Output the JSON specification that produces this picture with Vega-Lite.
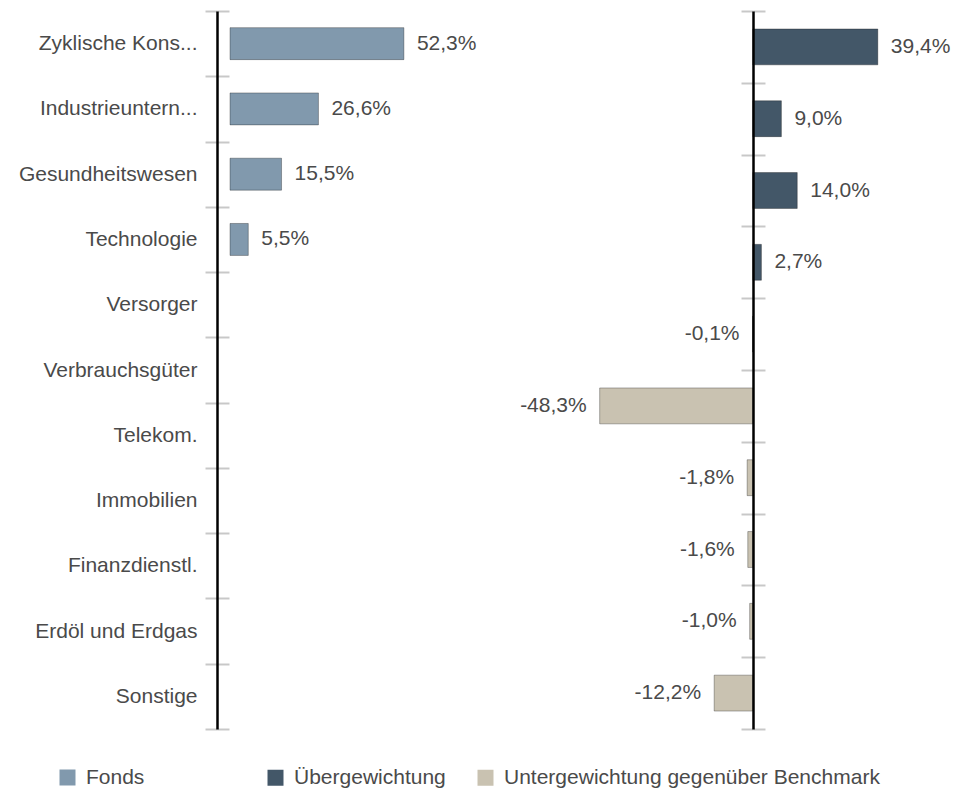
{
  "$schema": "https://vega.github.io/schema/vega-lite/v6.json",
  "padding": {"left": 18, "top": 0, "right": 5, "bottom": 5},
  "background": "white",
  "bounds": "flush",
  "spacing": 19,
  "config": {
    "font": "Liberation Sans",
    "view": {"stroke": null},
    "text": {"fontSize": 21, "fill": "#4a4a4a", "baseline": "middle"}
  },
  "datasets": {
    "fonds": [
      {"sector": "Zyklische Kons...", "v": 52.3, "series": "Fonds"},
      {"sector": "Industrieuntern...", "v": 26.6, "series": "Fonds"},
      {"sector": "Gesundheitswesen", "v": 15.5, "series": "Fonds"},
      {"sector": "Technologie", "v": 5.5, "series": "Fonds"}
    ],
    "diff": [
      {"sector": "Zyklische Kons...", "v": 39.4, "series": "Übergewichtung"},
      {"sector": "Industrieuntern...", "v": 9.0, "series": "Übergewichtung"},
      {"sector": "Gesundheitswesen", "v": 14.0, "series": "Übergewichtung"},
      {"sector": "Technologie", "v": 2.7, "series": "Übergewichtung"},
      {"sector": "Versorger", "v": -0.1, "series": "Untergewichtung gegenüber Benchmark"},
      {"sector": "Verbrauchsgüter", "v": -48.3, "series": "Untergewichtung gegenüber Benchmark"},
      {"sector": "Telekom.", "v": -1.8, "series": "Untergewichtung gegenüber Benchmark"},
      {"sector": "Immobilien", "v": -1.6, "series": "Untergewichtung gegenüber Benchmark"},
      {"sector": "Finanzdienstl.", "v": -1.0, "series": "Untergewichtung gegenüber Benchmark"},
      {"sector": "Erdöl und Erdgas", "v": -12.2, "series": "Untergewichtung gegenüber Benchmark"}
    ]
  },
  "hconcat": [
    {
      "width": 266,
      "height": 718,
      "data": {"name": "fonds"},
      "transform": [
        {"calculate": "replace(replace(format(datum.v, '.1f'), '.', ','), '\u2212', '-') + '%'", "as": "label"}
      ],
      "layer": [
        {
          "mark": {"type": "bar", "height": {"band": 0.49}, "stroke": "#000000", "strokeOpacity": 0.3, "strokeWidth": 1},
          "encoding": {
            "y": {
              "field": "sector", "type": "nominal",
              "scale": {"domain": ["Zyklische Kons...", "Industrieuntern...", "Gesundheitswesen", "Technologie", "Versorger", "Verbrauchsgüter", "Telekom.", "Immobilien", "Finanzdienstl.", "Erdöl und Erdgas", "Sonstige"], "padding": 0},
              "axis": {"orient": "left", "offset": 13, "title": null, "domainColor": "#000000", "domainWidth": 2.5, "tickColor": "#c8c8c8", "tickWidth": 2, "tickSize": 12, "tickBand": "extent", "labelFontSize": 21, "labelColor": "#4a4a4a", "labelPadding": 8, "labelLimit": 300, "zindex": 2}
            },
            "x": {"field": "v", "type": "quantitative", "scale": {"domain": [0, 80]}, "axis": null},
            "color": {
              "field": "series", "type": "nominal",
              "scale": {"domain": ["Fonds"], "range": ["#8199ad"]},
              "legend": {"orient": "none", "legendX": -173, "legendY": 756, "title": null, "direction": "horizontal", "symbolType": "square", "symbolSize": 256, "symbolStrokeWidth": 0, "labelFontSize": 21, "labelColor": "#4a4a4a", "labelOffset": 8, "padding": 0}
            }
          }
        },
        {
          "mark": {"type": "text", "align": "left", "dx": 13},
          "encoding": {
            "y": {
              "field": "sector", "type": "nominal",
              "scale": {"domain": ["Zyklische Kons...", "Industrieuntern...", "Gesundheitswesen", "Technologie", "Versorger", "Verbrauchsgüter", "Telekom.", "Immobilien", "Finanzdienstl.", "Erdöl und Erdgas", "Sonstige"], "padding": 0},
              "axis": {"orient": "left", "offset": 13, "title": null, "domain": false, "labels": false, "tickColor": "#c8c8c8", "tickWidth": 2, "tickSize": -12, "tickBand": "extent", "zindex": 1}
            },
            "x": {"field": "v", "type": "quantitative", "scale": {"domain": [0, 80]}, "axis": null},
            "text": {"field": "label"}
          }
        }
      ],
      "resolve": {"axis": {"y": "independent"}}
    },
    {
      "width": 444,
      "height": 718,
      "data": {"name": "diff"},
      "transform": [
        {"calculate": "replace(replace(format(datum.v, '.1f'), '.', ','), '\u2212', '-') + '%'", "as": "label"}
      ],
      "layer": [
        {
          "mark": {"type": "bar", "height": {"band": 0.5}, "stroke": "#000000", "strokeOpacity": 0.3, "strokeWidth": 1},
          "encoding": {
            "y": {
              "field": "sector", "type": "nominal",
              "scale": {"domain": ["Zyklische Kons...", "Industrieuntern...", "Gesundheitswesen", "Technologie", "Versorger", "Verbrauchsgüter", "Telekom.", "Immobilien", "Finanzdienstl.", "Erdöl und Erdgas"], "padding": 0},
              "axis": {"orient": "left", "offset": -238, "title": null, "labels": false, "domainColor": "#000000", "domainWidth": 2.5, "tickColor": "#c8c8c8", "tickWidth": 2, "tickSize": 12, "tickBand": "extent", "zindex": 2}
            },
            "x": {"field": "v", "type": "quantitative", "scale": {"domain": [-75, 65]}, "axis": null},
            "color": {
              "field": "series", "type": "nominal",
              "scale": {"domain": ["Übergewichtung", "Untergewichtung gegenüber Benchmark"], "range": ["#435768", "#c9c2b1"]},
              "legend": {"orient": "none", "legendX": -250, "legendY": 756, "title": null, "direction": "horizontal", "columnPadding": 29, "symbolType": "square", "symbolSize": 256, "symbolStrokeWidth": 0, "labelFontSize": 21, "labelColor": "#4a4a4a", "labelOffset": 8, "labelLimit": 500, "padding": 0}
            }
          }
        },
        {
          "transform": [{"filter": "datum.v > 0"}],
          "mark": {"type": "text", "align": "left", "dx": 13},
          "encoding": {
            "y": {
              "field": "sector", "type": "nominal",
              "scale": {"domain": ["Zyklische Kons...", "Industrieuntern...", "Gesundheitswesen", "Technologie", "Versorger", "Verbrauchsgüter", "Telekom.", "Immobilien", "Finanzdienstl.", "Erdöl und Erdgas"], "padding": 0},
              "axis": {"orient": "left", "offset": -238, "title": null, "domain": false, "labels": false, "tickColor": "#c8c8c8", "tickWidth": 2, "tickSize": -12, "tickBand": "extent", "zindex": 1}
            },
            "x": {"field": "v", "type": "quantitative", "scale": {"domain": [-75, 65]}, "axis": null},
            "text": {"field": "label"}
          }
        },
        {
          "transform": [{"filter": "datum.v < 0"}],
          "mark": {"type": "text", "align": "right", "dx": -13},
          "encoding": {
            "y": {
              "field": "sector", "type": "nominal",
              "scale": {"domain": ["Zyklische Kons...", "Industrieuntern...", "Gesundheitswesen", "Technologie", "Versorger", "Verbrauchsgüter", "Telekom.", "Immobilien", "Finanzdienstl.", "Erdöl und Erdgas"], "padding": 0},
              "axis": null
            },
            "x": {"field": "v", "type": "quantitative", "scale": {"domain": [-75, 65]}, "axis": null},
            "text": {"field": "label"}
          }
        }
      ],
      "resolve": {"axis": {"y": "independent"}}
    }
  ],
  "resolve": {"scale": {"color": "independent", "x": "independent", "y": "independent"}, "legend": {"color": "independent"}}
}
